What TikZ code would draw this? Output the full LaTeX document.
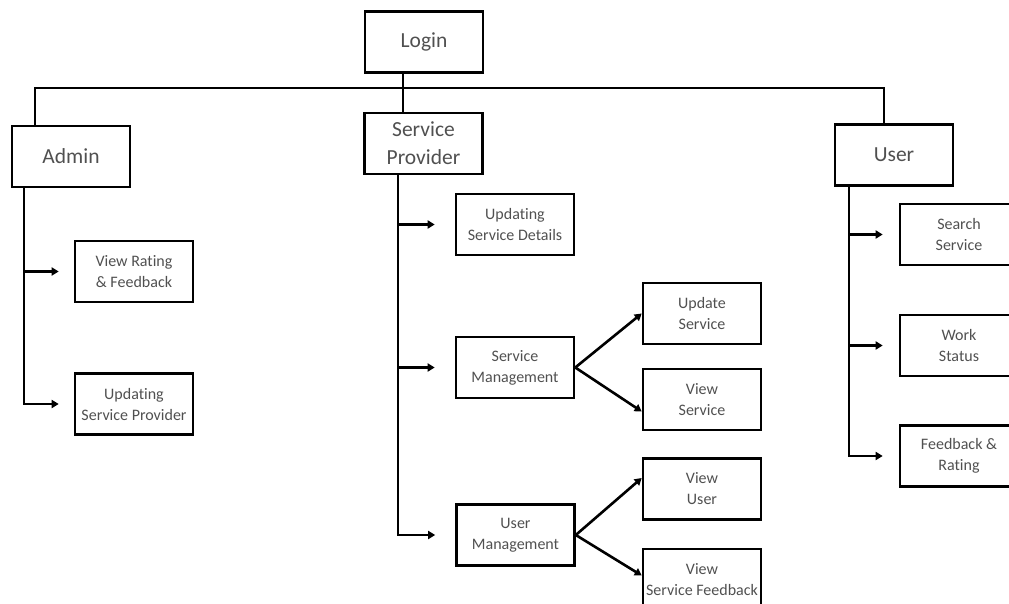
\documentclass[tikz,border=0pt]{standalone}
\usepackage{fontspec}
\setmainfont{Carlito}[Ligatures=CommonOff]
\usepackage{xcolor}
\usepackage{tikz}
\usetikzlibrary{arrows.meta}
\definecolor{txtgray}{HTML}{505050}

\begin{document}
\begin{tikzpicture}[x=1pt,y=-1pt,line width=2.6pt,>={Triangle[length=7pt,width=8pt]},
    every node/.style={shape=rectangle,draw,align=center,text=txtgray,minimum width=118pt,minimum height=61pt,inner sep=2pt},
    big/.style={font=\fontsize{21.5}{28}\selectfont},
    small/.style={font=\fontsize{16}{21}\selectfont}]
        \useasboundingbox (0,0) rectangle (1009,604);
        \clip (0,0) rectangle (1009,604);
        \node[big] (login) at (424,42) {Login};
        \node[big] (admin) at (71,156.5) {Admin};
        \node[big] (sp) at (423.5,143.5) {Service\\Provider};
        \node[big] (user) at (894,155) {User};
        \node[small] (vrf) at (134,271.5) {View Rating\\\& Feedback};
        \node[small] (usp) at (134,404) {Updating\\Service Provider};
        \node[small] (usd) at (515,224.5) {Updating\\Service Details};
        \node[small] (sm) at (515,367.5) {Service\\Management};
        \node[small] (um) at (515.5,535) {User\\Management};
        \node[small] (us) at (702,313.5) {Update\\Service};
        \node[small] (vs) at (702,399.5) {View\\Service};
        \node[small] (vu) at (702,489) {View\\User};
        \node[small] (vsf) at (702,579.5) {View\\Service Feedback};
        \node[small] (ss) at (959,234.5) {Search\\Service};
        \node[small] (ws) at (959,345.5) {Work\\Status};
        \node[small] (fr) at (959,456) {Feedback \&\\Rating};
        \coordinate (jn) at ([xshift=-21pt]login.south);
        \draw (jn) -- (jn |- sp.north);
        \draw ([xshift=-36pt]admin.north) |- ([xshift=-10pt]user.north |- 0,88) -- ([xshift=-10pt]user.north);
        \coordinate (at) at ([xshift=-47pt]admin.south);
        \draw[->] (at) |- ([xshift=-15pt]usp.west);
        \draw[->] (at |- vrf.west) -- ([xshift=-15pt]vrf.west);
        \coordinate (st) at ([xshift=-25.5pt]sp.south);
        \draw[->] (st) |- ([xshift=-20pt]um.west);
        \draw[->] (st |- usd.west) -- ([xshift=-20pt]usd.west);
        \draw[->] (st |- sm.west) -- ([xshift=-20pt]sm.west);
        \coordinate (ut) at ([xshift=-45pt]user.south);
        \draw[->] (ut) |- ([xshift=-16pt]fr.west);
        \draw[->] (ut |- ss.west) -- ([xshift=-16pt]ss.west);
        \draw[->] (ut |- ws.west) -- ([xshift=-16pt]ws.west);
        \draw[->] (sm.east) -- (us.west);
        \draw[->] (sm.east) -- ([yshift=-12pt]vs.west);
        \draw[->] (um.east) -- ([yshift=11pt]vu.west);
        \draw[->] (um.east) -- ([yshift=4pt]vsf.west);
    \end{tikzpicture}
\end{document}
